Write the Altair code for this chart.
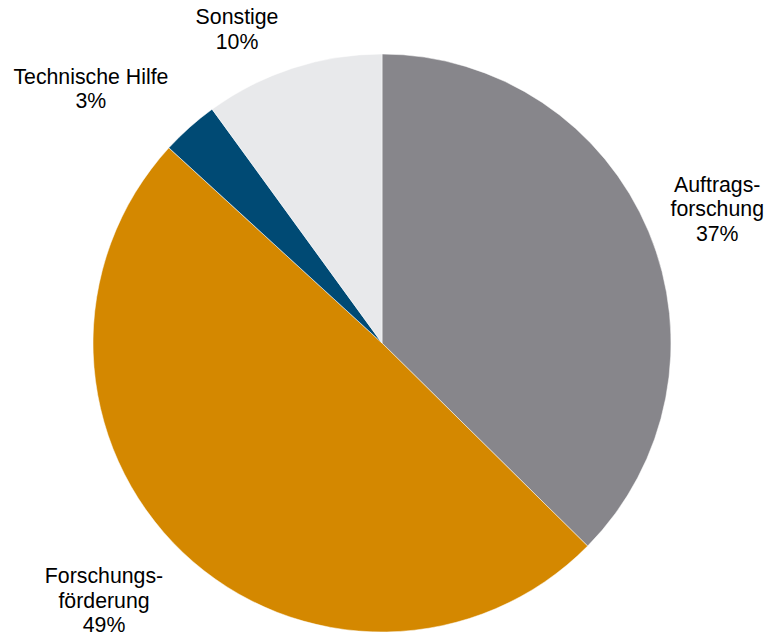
import altair as alt
import pandas as pd

names = ["Auftragsforschung", "Forschungsförderung", "Technische Hilfe", "Sonstige"]
labels = ["Auftrags-\nforschung\n37%", "Forschungs-\nförderung\n49%", "Technische Hilfe\n3%", "Sonstige\n10%"]
values = [37.4, 49.4, 3.2, 10.0]
colors = ["#87868b", "#d48800", "#004a74", "#e8e9eb"]

df = pd.DataFrame({"name": names, "label": labels, "value": values, "idx": list(range(len(names)))})

# label placement (style): radius and pixel offsets
label_style = {
    "Auftragsforschung": dict(r=359, dx=4, dy=-19),
    "Forschungsförderung": dict(r=370, dx=-23, dy=-34),
    "Technische Hilfe": dict(r=380, dx=-38, dy=18),
    "Sonstige": dict(r=330, dx=-43, dy=-11),
}

theta = alt.Theta("value:Q", stack=True)
order = alt.Order("idx:Q")

base = alt.Chart(df)

pie = base.mark_arc(outerRadius=289, stroke="white", strokeWidth=0.5).encode(
    theta=theta,
    order=order,
    color=alt.Color("name:N", scale=alt.Scale(domain=names, range=colors), legend=None),
)

layers = [pie]
for n in names:
    st = label_style[n]
    t = base.transform_calculate(
        t=f"datum.name == '{n}' ? datum.label : ''"
    ).mark_text(
        radius=st["r"], dx=st["dx"], dy=st["dy"], font="Liberation Sans", fontSize=21.3,
        lineBreak="\n", lineHeight=24.5, align="center", baseline="middle", color="#000000",
    ).encode(theta=theta, order=order, text="t:N")
    layers.append(t)

chart = alt.layer(*layers).properties(
    width=764, height=582,
    padding={"left": 0, "top": 52, "right": 3, "bottom": 0},
    autosize=alt.AutoSizeParams(type="none"),
).configure_view(stroke=None).configure(background="white")

chart.save("out.html", embed_options={"renderer": "svg", "actions": False})
